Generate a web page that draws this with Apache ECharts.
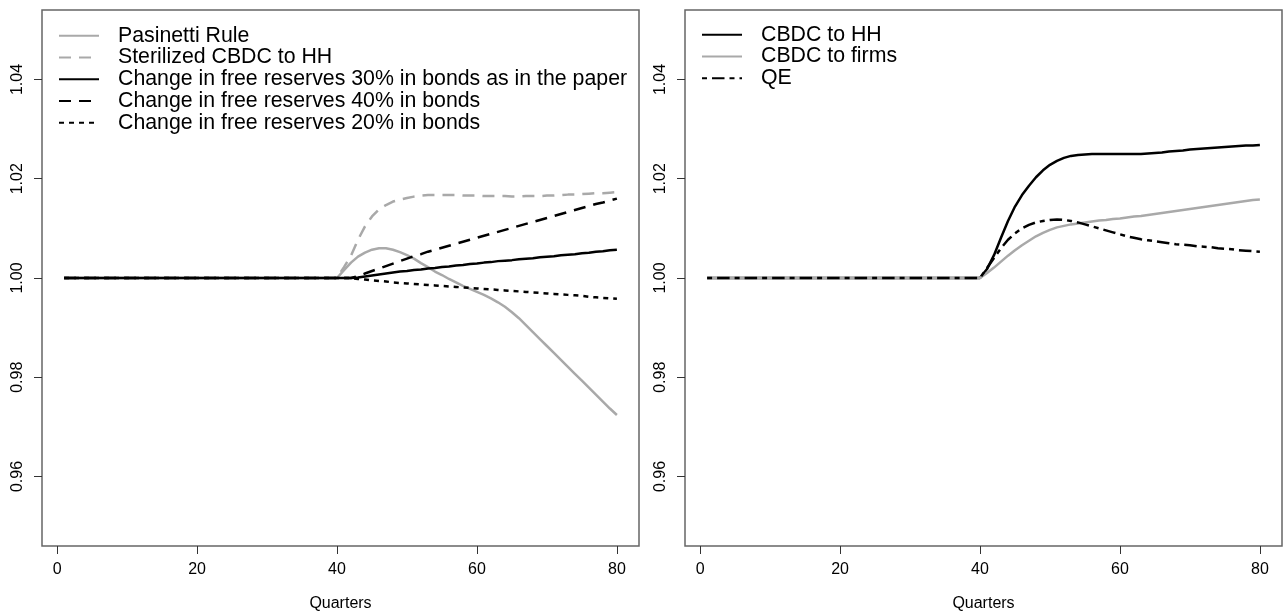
<!DOCTYPE html>
<html>
<head>
<meta charset="utf-8">
<script src="https://cdn.jsdelivr.net/npm/echarts@6/dist/echarts.min.js"></script>
<style>
html,body{margin:0;padding:0;background:#fff;}
#c{width:1284px;height:613px;}
</style>
</head>
<body>
<div id="c"></div>
<script>
// Quarters (x values): flat section 1..40, then every quarter to 80
var quarters = [1, 40, 41, 42, 43, 44, 45, 46, 47, 48, 49, 50, 51, 52, 53, 54, 55, 56, 57, 58, 59, 60,
  61, 62, 63, 64, 65, 66, 67, 68, 69, 70, 71, 72, 73, 74, 75, 76, 77, 78, 79, 80];

// Left panel
var pasinetti = [1.0000, 1.0000, 1.0016, 1.0031, 1.0043, 1.0051, 1.0057, 1.0060, 1.0060, 1.0057, 1.0052, 1.0046,
  1.0039, 1.0030, 1.0022, 1.0013, 1.0006, 0.9998, 0.9991, 0.9984, 0.9978, 0.9972,
  0.9966, 0.9959, 0.9951, 0.9942, 0.9931, 0.9919, 0.9905, 0.9891, 0.9877, 0.9863,
  0.9849, 0.9835, 0.9821, 0.9807, 0.9793, 0.9779, 0.9765, 0.9751, 0.9737, 0.9724];
var sterilized = [1.0000, 1.0000, 1.0022, 1.0045, 1.0077, 1.0104, 1.0124, 1.0138, 1.0147, 1.0154, 1.0158, 1.0161,
  1.0164, 1.0166, 1.0167, 1.0167, 1.0167, 1.0167, 1.0167, 1.0166, 1.0166, 1.0166,
  1.0165, 1.0165, 1.0165, 1.0165, 1.0164, 1.0164, 1.0165, 1.0165, 1.0165, 1.0166,
  1.0166, 1.0167, 1.0168, 1.0168, 1.0169, 1.0170, 1.0171, 1.0171, 1.0172, 1.0173];
var reserves30 = [1.0000, 1.0000, 1.0000, 1.0000, 1.0001, 1.0003, 1.0005, 1.0007, 1.0009, 1.0011, 1.0013, 1.0014,
  1.0016, 1.0017, 1.0019, 1.0020, 1.0022, 1.0023, 1.0025, 1.0026, 1.0028, 1.0029,
  1.0031, 1.0032, 1.0034, 1.0035, 1.0036, 1.0038, 1.0039, 1.0040, 1.0042, 1.0043,
  1.0044, 1.0046, 1.0047, 1.0048, 1.0050, 1.0051, 1.0053, 1.0054, 1.0056, 1.0057];
var reserves40 = [1.0000, 1.0000, 1.0000, 1.0000, 1.0004, 1.0009, 1.0014, 1.0019, 1.0024, 1.0029, 1.0034, 1.0039,
  1.0044, 1.0048, 1.0053, 1.0057, 1.0061, 1.0065, 1.0069, 1.0073, 1.0077, 1.0081,
  1.0085, 1.0089, 1.0093, 1.0097, 1.0101, 1.0105, 1.0109, 1.0113, 1.0117, 1.0121,
  1.0125, 1.0129, 1.0133, 1.0137, 1.0141, 1.0145, 1.0149, 1.0152, 1.0156, 1.0160];
var reserves20 = [1.0000, 1.0000, 1.0000, 1.0000, 0.9998, 0.9997, 0.9995, 0.9994, 0.9993, 0.9991, 0.9990, 0.9989,
  0.9988, 0.9987, 0.9986, 0.9985, 0.9984, 0.9983, 0.9982, 0.9981, 0.9980, 0.9979,
  0.9978, 0.9977, 0.9976, 0.9975, 0.9974, 0.9973, 0.9972, 0.9971, 0.9970, 0.9969,
  0.9968, 0.9967, 0.9966, 0.9965, 0.9964, 0.9962, 0.9961, 0.9960, 0.9959, 0.9958];

// Right panel
var cbdcHH = [1.0000, 1.0000, 1.0018, 1.0046, 1.0081, 1.0115, 1.0144, 1.0167, 1.0186, 1.0203, 1.0217, 1.0228,
  1.0236, 1.0242, 1.0246, 1.0248, 1.0249, 1.0250, 1.0250, 1.0250, 1.0250, 1.0250,
  1.0250, 1.0250, 1.0250, 1.0251, 1.0252, 1.0253, 1.0255, 1.0256, 1.0257, 1.0259,
  1.0260, 1.0261, 1.0262, 1.0263, 1.0264, 1.0265, 1.0266, 1.0267, 1.0267, 1.0268];
var cbdcFirms = [1.0000, 1.0000, 1.0010, 1.0021, 1.0033, 1.0045, 1.0056, 1.0066, 1.0075, 1.0084, 1.0091, 1.0097,
  1.0102, 1.0105, 1.0108, 1.0110, 1.0112, 1.0114, 1.0116, 1.0117, 1.0119, 1.0120,
  1.0122, 1.0124, 1.0125, 1.0127, 1.0129, 1.0131, 1.0133, 1.0135, 1.0137, 1.0139,
  1.0141, 1.0143, 1.0145, 1.0147, 1.0149, 1.0151, 1.0153, 1.0155, 1.0157, 1.0158];
var qe = [1.0000, 1.0000, 1.0020, 1.0040, 1.0060, 1.0077, 1.0090, 1.0100, 1.0107, 1.0112, 1.0115, 1.0117,
  1.0118, 1.0117, 1.0115, 1.0112, 1.0108, 1.0104, 1.0100, 1.0096, 1.0092, 1.0088,
  1.0084, 1.0081, 1.0078, 1.0076, 1.0074, 1.0072, 1.0070, 1.0068, 1.0067, 1.0066,
  1.0064, 1.0063, 1.0062, 1.0060, 1.0059, 1.0058, 1.0056, 1.0055, 1.0054, 1.0053];

var xTicks = [0, 20, 40, 60, 80];
var yTicks = [0.96, 0.98, 1.00, 1.02, 1.04];
var xTitle = 'Quarters';

var leftNames = ['Pasinetti Rule', 'Sterilized CBDC to HH', 'Change in free reserves 30% in bonds as in the paper',
  'Change in free reserves 40% in bonds', 'Change in free reserves 20% in bonds'];
var rightNames = ['CBDC to HH', 'CBDC to firms', 'QE'];

var FONT = '"Liberation Sans", Arial, Helvetica, sans-serif';
var GREY = '#a9a9a9';
var LW = 2.5;

function pairs(ys) { return quarters.map(function (q, i) { return [q, ys[i]]; }); }

function xAxisFor(idx) {
  return {
    type: 'value', gridIndex: idx, min: -2.16, max: 83.16,
    name: xTitle, nameLocation: 'middle', nameGap: 50,
    nameTextStyle: { fontFamily: FONT, fontSize: 16, color: '#000' },
    axisLine: { show: false, onZero: false },
    axisTick: { show: true, inside: false, customValues: xTicks, length: 8, lineStyle: { color: '#333', width: 1 } },
    axisLabel: { show: true, customValues: xTicks, margin: 16, fontFamily: FONT, fontSize: 16, color: '#000' },
    splitLine: { show: false }
  };
}
function yAxisFor(idx) {
  return {
    type: 'value', gridIndex: idx, min: 0.946, max: 1.054,
    axisLine: { show: false, onZero: false },
    axisTick: { show: true, inside: false, customValues: yTicks, length: 8, lineStyle: { color: '#333', width: 1 } },
    axisLabel: {
      show: true, customValues: yTicks, rotate: 90, margin: 16, align: 'center', verticalAlign: 'bottom',
      fontFamily: FONT, fontSize: 16, color: '#000',
      formatter: function (v) { return Number(v).toFixed(2); }
    },
    splitLine: { show: false }
  };
}
function line(name, ys, idx, color, dash) {
  return {
    name: name, type: 'line', xAxisIndex: idx, yAxisIndex: idx, data: pairs(ys),
    symbol: 'none', showSymbol: false, smooth: false,
    lineStyle: { color: color, width: LW, type: dash },
    itemStyle: { color: color },
    emphasis: { disabled: true }, silent: true
  };
}

var legendBase = {
  orient: 'vertical', padding: 0, itemWidth: 40, itemHeight: 14, itemGap: 0,
  selectedMode: false,
  itemStyle: { opacity: 0, borderWidth: 0 },
  textStyle: { fontFamily: FONT, fontSize: 21.3, color: '#000', lineHeight: 21.7, padding: [0, 0, 0, 14] }
};

var gridBase = { top: 10, bottom: 67, show: true, borderColor: '#666', borderWidth: 1.5,
  backgroundColor: 'transparent', containLabel: false, outerBoundsMode: 'none' };

var option = {
  animation: false,
  backgroundColor: '#fff',
  grid: [
    Object.assign({}, gridBase, { left: 42, right: 645 }),
    Object.assign({}, gridBase, { left: 685, right: 2 })
  ],
  xAxis: [xAxisFor(0), xAxisFor(1)],
  yAxis: [yAxisFor(0), yAxisFor(1)],
  legend: [
    Object.assign({}, legendBase, { data: leftNames, left: 58, top: 25 }),
    Object.assign({}, legendBase, { data: rightNames, left: 701, top: 24 })
  ],
  series: [
    line(leftNames[0], pasinetti, 0, GREY, 'solid'),
    line(leftNames[1], sterilized, 0, GREY, [12, 8]),
    line(leftNames[2], reserves30, 0, '#000', 'solid'),
    line(leftNames[3], reserves40, 0, '#000', [12, 8]),
    line(leftNames[4], reserves20, 0, '#000', [5, 5]),
    line(rightNames[0], cbdcHH, 1, '#000', 'solid'),
    line(rightNames[1], cbdcFirms, 1, GREY, 'solid'),
    line(rightNames[2], qe, 1, '#000', [5, 5, 12.5, 5])
  ]
};

var chart = echarts.init(document.getElementById('c'), null, { renderer: 'canvas' });
chart.setOption(option);
</script>
</body>
</html>
